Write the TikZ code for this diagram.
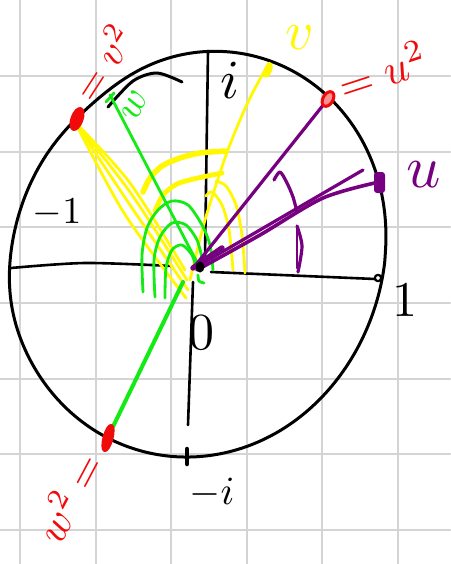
\documentclass[tikz,border=0pt]{standalone}
\usepackage{graphicx}
\definecolor{gridgray}{RGB}{212,212,212}
\definecolor{hyellow}{RGB}{255,248,0}
\definecolor{hgreen}{RGB}{20,235,20}
\definecolor{hpurple}{RGB}{118,0,128}
\definecolor{hred}{RGB}{240,10,10}
\tikzset{
  gridline/.style={gridgray, line width=2.6},
  circ/.style={black, line width=3},
  axisline/.style={black, line width=2.6},
  ystroke/.style={hyellow, line width=2.8},
  gstroke/.style={hgreen, line width=2.8},
  pstroke/.style={hpurple, line width=3.2},
  lbl/.style={inner sep=0pt, outer sep=0pt},
}
\newcommand{\fsz}[2]{\scalebox{#1}{#2}}
\begin{document}
\begin{tikzpicture}[x=1pt,y=-1pt,line cap=round,line join=round]
\useasboundingbox (0,0) rectangle (450,564);
\fill[white] (0,0) rectangle (450,564);
% grid paper
\foreach \gx in {20,96,171,247,322,398} \draw[gridline] (\gx,0) -- (\gx,564);
\foreach \gy in {76,152,227,303,379,454,530} \draw[gridline] (0,\gy) -- (450,\gy);

% key points
\coordinate (C) at (199,253);
\coordinate (O) at (200,267);
\coordinate (v) at (269,63);
\coordinate (v2) at (75,122);
\coordinate (u) at (379,182);
\coordinate (u2) at (328,99);
\coordinate (w) at (110,95);
\coordinate (w2) at (108,437);

% unit circle (hand drawn, slightly irregular)
\draw[circ] plot[smooth cycle, domain=0:357, samples=120]
  ({199+(195+11*cos(2*(\x-70))-8/(1+((\x-125)/25)^2)+4/(1+((\x-195)/25)^2))*cos(\x)},
   {253-(195+11*cos(2*(\x-70))-8/(1+((\x-125)/25)^2)+4/(1+((\x-195)/25)^2))*sin(\x)});
% small arc near top
\draw[circ] plot[smooth] coordinates {(108,107) (133,81) (157,73) (182,82)};

% axes
\draw[axisline] plot[smooth] coordinates {(11,268) (85,263) (172,266)};
\draw[axisline] (211,272) -- (375,279);
\draw[black, line width=2.2] (378,278) circle (3.2);
\draw[axisline] (208,51) -- (205,257);
\draw[axisline] (193,282) -- (188,425);
\draw[black, line width=4.5] (187,449) -- (187,464);

% yellow: v and v^2
\draw[ystroke] plot[smooth] coordinates {(190,280) (205,220) (225,158) (240,120) (253,92) (v)};
\fill[hyellow, rotate around={-20:(268,70)}] (268,70) ellipse (4 and 8);
\draw[ystroke] plot[smooth] coordinates {(v2) (130,183) (185,270)};
\draw[ystroke] plot[smooth] coordinates {(v2) (130,192) (187,280)};
\draw[ystroke] plot[smooth] coordinates {(v2) (128,202) (188,290)};
\draw[ystroke] plot[smooth] coordinates {(v2) (124,213) (186,298)};
\draw[hyellow, line width=5.5] plot[smooth] coordinates {(143,192) (150,178) (162,166) (180,158) (200,153) (226,151)};
\draw[hyellow, line width=4.8] plot[smooth] coordinates {(155,211) (163,195) (177,184) (198,178) (222,173)};
\draw[ystroke] plot[smooth] coordinates {(206,196) (212,192) (222,205) (229,230) (233,270)};
\draw[ystroke] plot[smooth] coordinates {(216,181) (226,186) (236,205) (242,235) (245,273)};

% green: w and w^2
\draw[gstroke] (w) -- (200,268);
\draw[gstroke] (106,102) -- (114,93);
\draw[hgreen, line width=4] (183,282) -- (w2);
\draw[gstroke] plot[smooth] coordinates {(143,292) (142,255) (147,228) (158,210) (172,201) (188,205) (202,225) (210,245) (213,270)};
\draw[gstroke] plot[smooth] coordinates {(155,297) (154,260) (160,237) (172,223) (186,225) (197,240) (202,258)};
\draw[gstroke] plot[smooth] coordinates {(165,298) (166,268) (172,250) (182,245) (192,255) (196,268)};
\draw[gstroke] plot[smooth] coordinates {(198,275) (199,281) (204,283)};

% purple: u and u^2
\draw[pstroke] (195,266) -- (u2);
\draw[pstroke] (198,266) -- (363,170);
\draw[hpurple, line width=3.6] plot[smooth] coordinates {(197,270) (260,235) (323,198) (u)};
\draw[hpurple, line width=5.5] (193,268) -- (222,248);
\fill[hpurple, rounded corners=3] (374,172) rectangle (385,193);
\draw[pstroke] plot[smooth] coordinates {(274,180) (280,172) (287,183) (293,197) (297,212)};
\draw[pstroke] plot[smooth] coordinates {(297,226) (302,246) (298,272)};
\draw[hpurple, line width=2.4] (297,228) -- (297,268);

% origin
\fill[black] (O) ellipse (4.5 and 5.5);

% red points
\draw[hred, line width=3, fill=hred, rotate around={-20:(77,119)}] (77,119) ellipse (5 and 11);
\draw[hred, line width=3, fill=hred!45, rotate around={-30:(u2)}] (u2) ellipse (5 and 8);
\draw[hred, line width=3, fill=hred, rotate around={-15:(108,438)}] (108,438) ellipse (4 and 13);

% labels
\node[lbl] (li) at (230,80) {\fsz{5.5}{$i$}};
\node[lbl] (lm1) at (57,213) {\fsz{3.8}{$-1$}};
\node[lbl] (l1) at (405,300) {\fsz{5}{$1$}};
\node[lbl] (l0) at (201,333) {\fsz{5.2}{$0$}};
\node[lbl] (lmi) at (212,493) {\fsz{4}{$-i$}};
\node[lbl, text=hyellow] (lv) at (300,38) {\fsz{5.5}{$v$}};
\node[lbl, text=hpurple] (lu) at (424,175) {\fsz{6}{$u$}};
\node[lbl, text=hgreen, rotate=65] (lw) at (135,105) {\fsz{4}{$w$}};
\node[lbl, text=hred, rotate=57] (lv2) at (102,62) {\fsz{4}{$=v^2$}};
\node[lbl, text=hred, rotate=18] (lu2) at (382,70) {\fsz{4.4}{$=u^2$}};
\node[lbl, text=hred, rotate=62] (lw2) at (68,497) {\fsz{4.2}{$w^2=$}};
\end{tikzpicture}
\end{document}
